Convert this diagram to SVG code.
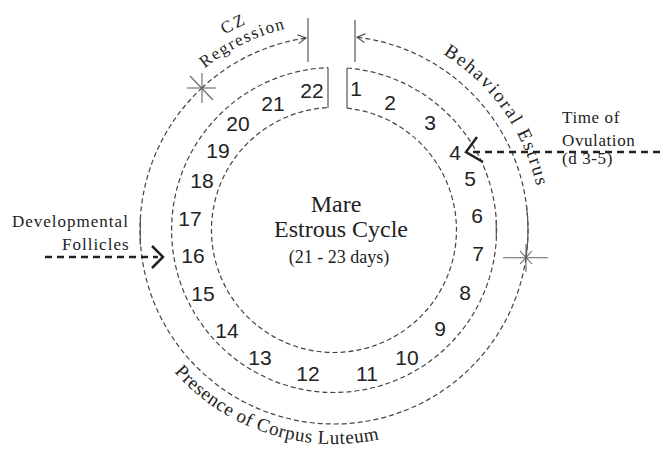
<svg xmlns="http://www.w3.org/2000/svg" width="661" height="454" viewBox="0 0 661 454">
<style>
.ring{fill:none;stroke:#444;stroke-width:1.2;stroke-dasharray:5 3}
.solid{fill:none;stroke:#555;stroke-width:1.2}
.num{font-family:"Liberation Sans",Arial,sans-serif;font-size:21px;fill:#222;text-anchor:middle}
.lbl{font-family:"Liberation Serif","Times New Roman",serif;fill:#222}
.bold{fill:none;stroke:#222;stroke-width:2.5;stroke-dasharray:7 5}
.head{fill:none;stroke:#222;stroke-width:2.5;stroke-linejoin:miter}
.star{fill:none;stroke:#666;stroke-width:1.1}
</style>
<defs>
<marker id="chev" markerUnits="userSpaceOnUse" markerWidth="12" markerHeight="12" refX="9" refY="5" orient="auto" viewBox="0 0 12 10">
<path d="M1,0.5 L9,5 L1,9.5" fill="none" stroke="#444" stroke-width="1.1"/>
</marker>
<path id="pCZ" d="M162.4,86 A224,224 0 0 1 326.2,6.1"/>
<path id="pReg" d="M175.4,96.9 A207,207 0 0 1 326.8,23.1"/>
<path id="pBE" d="M404.8,35.5 A207,207 0 0 1 541,230"/>
<path id="pPCL" d="M148.7,337 A214,214 0 0 0 421,425.5"/>
</defs>
<rect width="661" height="454" fill="#fff"/>

<g id="cycle-ring">
<path class="ring" d="M347,68 A162.5,162.5 0 1 1 328,67.6"/>
<path class="ring" d="M347,108.2 A122.5,122.5 0 1 1 328,107.65"/>
<line class="solid" x1="328" y1="67.6" x2="328" y2="107.65"/>
<line class="solid" x1="347" y1="68" x2="347" y2="108.2"/>
<line class="solid" x1="496.2" y1="220" x2="496.3" y2="237"/>
</g>

<g id="connectors">
<path id="cz-arc" class="ring" d="M201.7,88.1 A194,194 0 0 1 306,38" marker-end="url(#chev)"/>
<path id="be-arc" class="ring" d="M526,257.7 A194,194 0 0 0 357,37.2" marker-end="url(#chev)"/>
<path id="pcl-arc" class="ring" d="M526,257.7 A194,194 0 1 1 201.7,88.1"/>
<path class="solid" d="M526.4,205 A194,194 0 0 1 526,257.7"/>
<line class="solid" x1="140.4" y1="218" x2="140.3" y2="245"/>
<line class="solid" x1="308" y1="18" x2="308" y2="62"/>
<line class="solid" x1="355" y1="20" x2="355" y2="62" stroke="#888"/>
<g class="star">
<line x1="187" y1="88" x2="216" y2="88"/>
<line x1="202" y1="73" x2="202" y2="103"/>
<line x1="190" y1="76" x2="213" y2="100"/>
</g>
<g class="star">
<line x1="503" y1="257.7" x2="548" y2="257.7"/>
<line x1="526" y1="244" x2="526" y2="272"/>
<line x1="520" y1="251" x2="532" y2="264"/>
<line x1="520" y1="264" x2="532" y2="251"/>
</g>
<line class="bold" x1="45" y1="257" x2="158" y2="257"/>
<polyline class="head" points="152,246 163,257 152,268"/>
<line class="bold" x1="660" y1="152" x2="471" y2="152"/>
<polyline class="head" points="477,137 466,152 483,162"/>
</g>

<g id="days">
<g id="d1"><text class="num" x="356" y="95.5">1</text></g>
<g id="d2"><text class="num" x="390" y="109.5">2</text></g>
<g id="d3"><text class="num" x="430" y="129.5">3</text></g>
<g id="d4"><text class="num" x="455" y="159.5">4</text></g>
<g id="d5"><text class="num" x="470" y="185.5">5</text></g>
<g id="d6"><text class="num" x="477" y="222.5">6</text></g>
<g id="d7"><text class="num" x="478" y="260.5">7</text></g>
<g id="d8"><text class="num" x="465" y="299.5">8</text></g>
<g id="d9"><text class="num" x="440" y="335.5">9</text></g>
<g id="d10"><text class="num" x="407" y="364.5">10</text></g>
<g id="d11"><text class="num" x="367" y="380.5">11</text></g>
<g id="d12"><text class="num" x="308" y="380.5">12</text></g>
<g id="d13"><text class="num" x="260" y="364.5">13</text></g>
<g id="d14"><text class="num" x="227" y="337.5">14</text></g>
<g id="d15"><text class="num" x="203" y="300.5">15</text></g>
<g id="d16"><text class="num" x="193" y="262.5">16</text></g>
<g id="d17"><text class="num" x="190" y="225.5">17</text></g>
<g id="d18"><text class="num" x="202" y="187.5">18</text></g>
<g id="d19"><text class="num" x="218" y="157.5">19</text></g>
<g id="d20"><text class="num" x="238" y="130.5">20</text></g>
<g id="d21"><text class="num" x="273" y="110.5">21</text></g>
<g id="d22"><text class="num" x="312" y="97.5">22</text></g>
</g>

<g id="center-title" class="lbl" text-anchor="middle">
<text x="336" y="212" font-size="24">Mare</text>
<text x="341" y="237" font-size="24">Estrous Cycle</text>
<text x="339" y="263" font-size="18">(21 - 23 days)</text>
</g>

<g id="cz-label" class="lbl">
<text font-size="17" letter-spacing="2"><textPath href="#pCZ" startOffset="50%" text-anchor="middle">CZ</textPath></text>
<text font-size="17" letter-spacing="1.6"><textPath href="#pReg" startOffset="50%" text-anchor="middle">Regression</textPath></text>
</g>

<g id="be-label" class="lbl">
<text font-size="19" letter-spacing="1.9"><textPath href="#pBE" startOffset="50%" text-anchor="middle">Behavioral Estrus</textPath></text>
</g>

<g id="pcl-label" class="lbl">
<text font-size="19" letter-spacing="0.6"><textPath href="#pPCL" startOffset="50%" text-anchor="middle">Presence of Corpus Luteum</textPath></text>
</g>

<g id="follicles-label" class="lbl" font-size="17" letter-spacing="1">
<text x="12" y="227">Developmental</text>
<text x="62" y="250">Follicles</text>
</g>

<g id="ovulation-label" class="lbl" font-size="17" letter-spacing="0.6">
<text x="562" y="123">Time of</text>
<text x="562" y="146">Ovulation</text>
<text x="562" y="164">(d 3-5)</text>
</g>
</svg>
